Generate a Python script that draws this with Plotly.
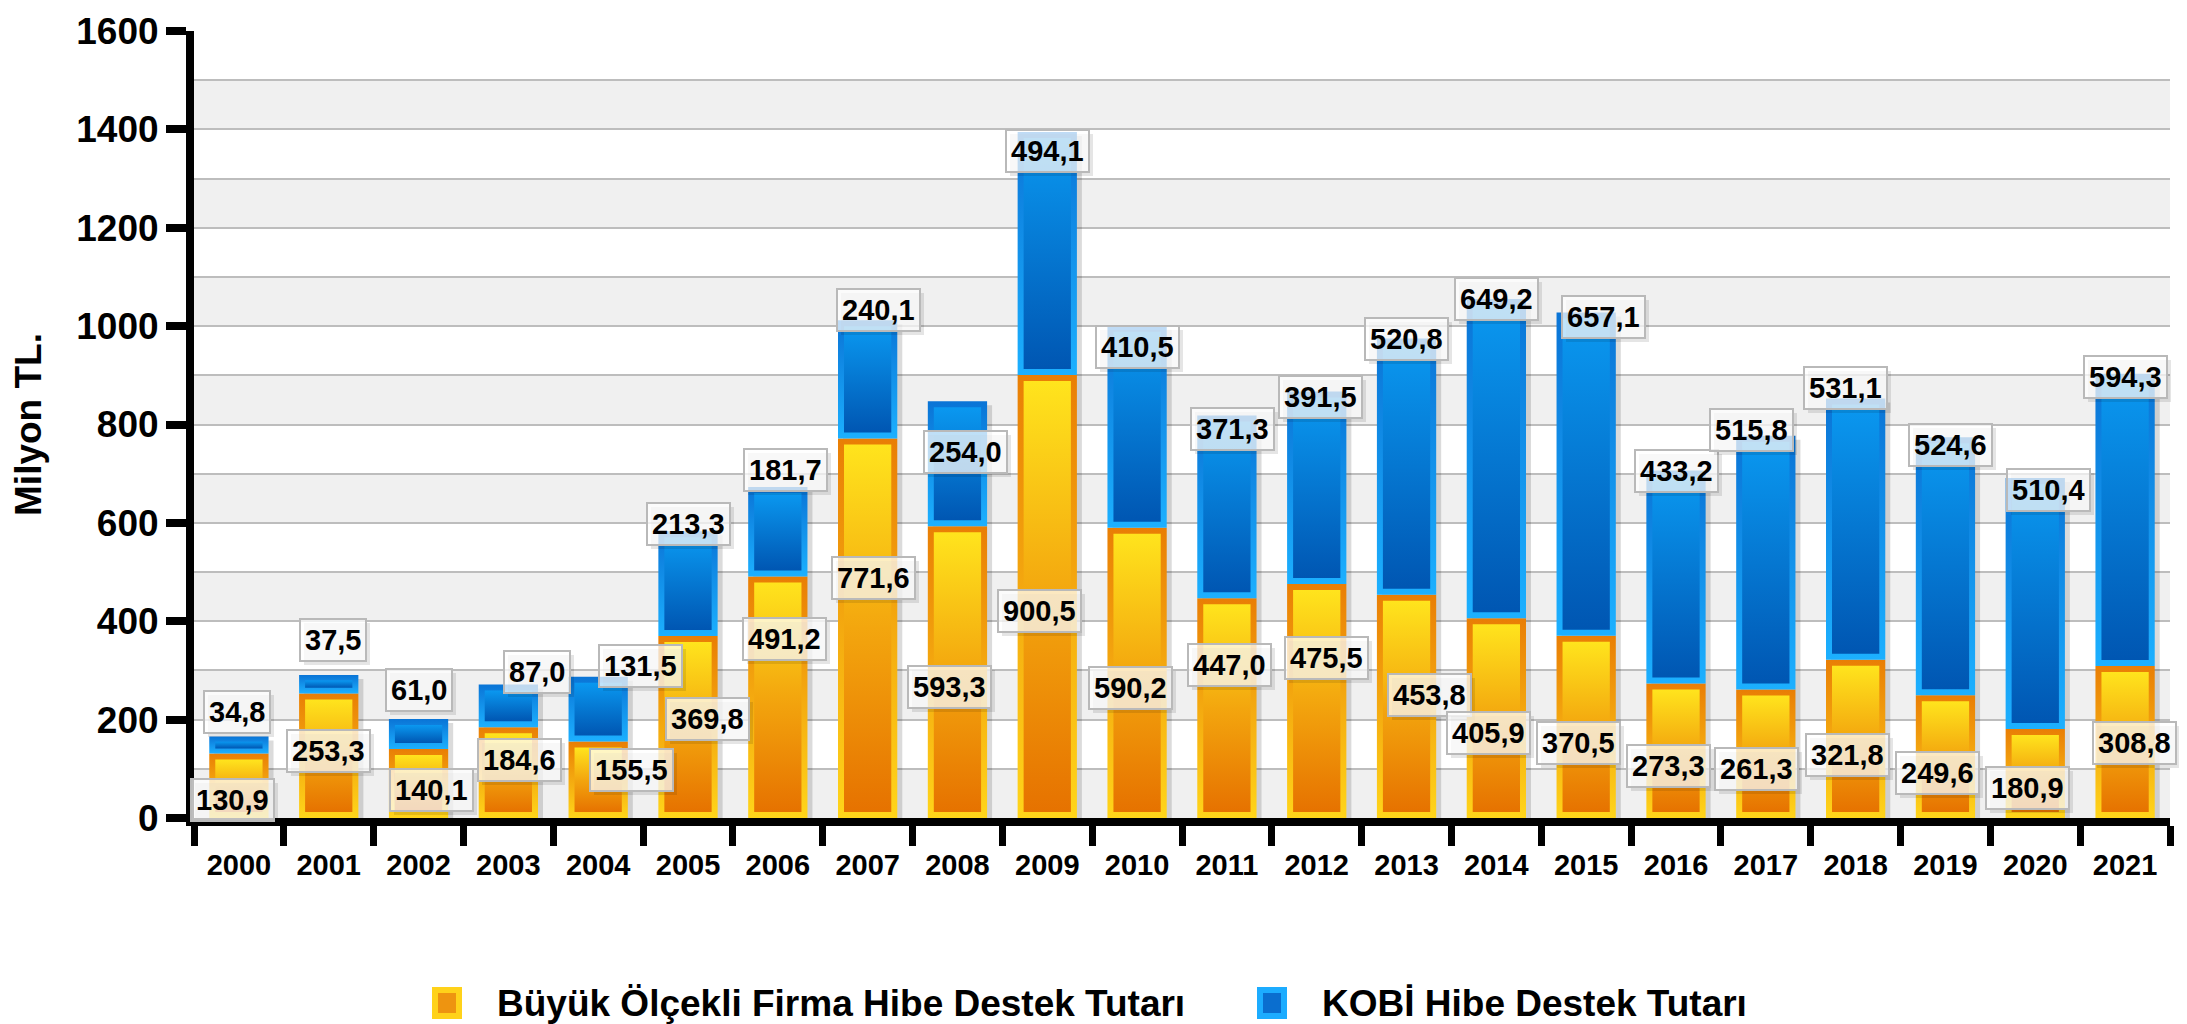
import plotly.graph_objects as go

# data (Milyon TL.)
years = [str(y) for y in range(2000, 2022)]
buyuk = [130.9, 253.3, 140.1, 184.6, 155.5, 369.8, 491.2, 771.6, 593.3, 900.5, 590.2,
         447.0, 475.5, 453.8, 405.9, 370.5, 273.3, 261.3, 321.8, 249.6, 180.9, 308.8]
kobi = [34.8, 37.5, 61.0, 87.0, 131.5, 213.3, 181.7, 240.1, 254.0, 494.1, 410.5,
        371.3, 391.5, 520.8, 649.2, 657.1, 433.2, 515.8, 531.1, 524.6, 510.4, 594.3]

# where the value boxes sit (axis value) and their horizontal nudge (px)
buyuk_label_y = [36, 137, 56, 118, 97, 201, 363, 487, 266, 420, 264,
                 312, 325, 250, 172, 153, 105, 99, 129, 91, 62, 153]
buyuk_label_dx = [-6, 0, 13, 11, 33, 19, 7, 6, -8, -8, -7,
                  3, 10, 23, -8, -8, -8, -9, -8, -8, -8, 9]
kobi_label_y = [215, 361, 260, 296, 310, 597, 708, 1033, 745, 1356, 958,
                791, 856, 974, 1055, 1019, 705, 789, 875, 758, 667, 897]
kobi_label_dx = [-2, 4, 0, 29, 42, 0, 8, 11, 8, 0, 0,
                 6, 4, 0, 0, 17, 0, -14, -10, 5, 13, 0]

W, H = 2187, 1024
L, R, T, B = 186, 25, 23, 214
pw, ph = W - L - R, H - T - B
n = len(years)
ymax = 1600

FONT = "Liberation Sans, Arial, sans-serif"


def px_x(px):
    return (px - L) / pw


def px_y(py):
    return (H - B - py) / ph


# sizes in axis units
hw = 0.33
ux = n / pw          # axis units per px (x)
uy = ymax / ph       # axis units per px (y)
inset = 6

orange_fill = [[0, "#E67200"], [0.5, "#F3A60E"], [1, "#FFE41D"]]
orange_edge = [[0, "#FFD51A"], [1, "#E97E05"]]
blue_fill = [[0, "#0056B2"], [1, "#0A98F0"]]
blue_edge = [[0, "#1CB0FF"], [1, "#0A74D6"]]

fig = go.Figure()


def box(x0, x1, y0, y1, **kw):
    return go.Scatter(x=[x0, x1, x1, x0, x0], y=[y0, y0, y1, y1, y0],
                      mode="lines", line=dict(width=0, color="rgba(0,0,0,0)"),
                      fill="toself", hoverinfo="skip", showlegend=False, **kw)


def segment(c, y0, y1, edge, fill):
    fig.add_trace(box(c - hw, c + hw, y0, y1,
                      fillgradient=dict(type="vertical", colorscale=edge)))
    dy = min(inset * uy, (y1 - y0) * 0.3)
    dx = inset * ux
    fig.add_trace(box(c - hw + dx, c + hw - dx, y0 + dy, y1 - dy,
                      fillgradient=dict(type="vertical", colorscale=fill)))


# soft shadows
for i in range(n):
    top = buyuk[i] + kobi[i]
    fig.add_trace(box(i - hw + 5 * ux, i + hw + 5 * ux, 0, top - 4 * uy,
                      fillcolor="rgba(0,0,0,0.14)"))

for i in range(n):
    segment(i, 0, buyuk[i], orange_edge, orange_fill)
    segment(i, buyuk[i], buyuk[i] + kobi[i], blue_edge, blue_fill)


def fmt(v):
    return f"{v:.1f}".replace(".", ",")


def value_box(x, y, dx, v):
    common = dict(x=x, y=y, xref="x", yref="y", showarrow=False,
                  borderpad=4, borderwidth=2)
    fig.add_annotation(text=fmt(v), xshift=dx + 4, yshift=-4,
                       bgcolor="rgba(0,0,0,0.10)", bordercolor="rgba(0,0,0,0)",
                       font=dict(family=FONT, size=29, weight="bold", color="rgba(0,0,0,0)"),
                       **common)
    fig.add_annotation(text=fmt(v), xshift=dx,
                       bgcolor="rgba(255,255,255,0.74)", bordercolor="#B9B9B9",
                       font=dict(family=FONT, size=29, weight="bold", color="black"),
                       **common)


for i in range(n):
    value_box(i, kobi_label_y[i], kobi_label_dx[i], kobi[i])
    value_box(i, buyuk_label_y[i], buyuk_label_dx[i], buyuk[i])

# alternating grey bands
for k in range(0, ymax, 200):
    fig.add_shape(type="rect", xref="paper", yref="y", x0=0, x1=1, y0=k, y1=k + 100,
                  fillcolor="#F0F0F0", line=dict(width=0), layer="below")

# legend drawn by hand so the keys match the big text
legend = [("Büyük Ölçekli Firma Hibe Destek Tutarı", 424, "#FFD21A", "#EE9410"),
          ("KOBİ Hibe Destek Tutarı", 1249, "#1CACFF", "#0A6ECF")]
ly = 995
for text, x0, edge, inner in legend:
    fig.add_shape(type="rect", xref="paper", yref="paper",
                  x0=px_x(x0), x1=px_x(x0 + 30), y0=px_y(ly + 16), y1=px_y(ly - 16),
                  fillcolor=edge, line=dict(width=0))
    fig.add_shape(type="rect", xref="paper", yref="paper",
                  x0=px_x(x0 + 6), x1=px_x(x0 + 24), y0=px_y(ly + 10), y1=px_y(ly - 10),
                  fillcolor=inner, line=dict(width=0))
    fig.add_annotation(text=text, xref="paper", yref="paper",
                       x=px_x(x0 + 64), y=px_y(ly), xanchor="left", yanchor="middle",
                       showarrow=False, borderpad=0,
                       font=dict(family=FONT, size=37, weight="bold", color="black"))

fig.update_layout(
    width=W, height=H,
    margin=dict(l=L, r=R, t=T, b=B),
    plot_bgcolor="white", paper_bgcolor="white",
    showlegend=False,
    font=dict(family=FONT, color="black"),
)
fig.update_xaxes(
    range=[-0.5, n - 0.5], tickmode="array", tickvals=list(range(n)), ticktext=years,
    ticks="", ticklabelstandoff=14, showgrid=False, zeroline=False, automargin=False,
    showline=True, linewidth=8, linecolor="black",
    tickfont=dict(family=FONT, size=29, weight="bold"),
    minor=dict(tickmode="array", tickvals=[i - 0.5 for i in range(n + 1)],
               ticks="outside", ticklen=20, tickwidth=7, tickcolor="black", showgrid=False),
)
fig.update_yaxes(
    range=[0, ymax], tick0=0, dtick=200, ticks="outside", ticklen=20, tickwidth=8,
    tickcolor="black", showline=True, linewidth=8, linecolor="black", zeroline=False,
    showgrid=True, gridcolor="#BDBDBD", gridwidth=2, automargin=False,
    minor=dict(dtick=100, showgrid=True, gridcolor="#BDBDBD", gridwidth=2, ticks=""),
    tickfont=dict(family=FONT, size=37, weight="bold"),
    title=dict(text="Milyon TL.", standoff=28, font=dict(family=FONT, size=37, weight="bold")),
)

fig.write_html("out.html")
